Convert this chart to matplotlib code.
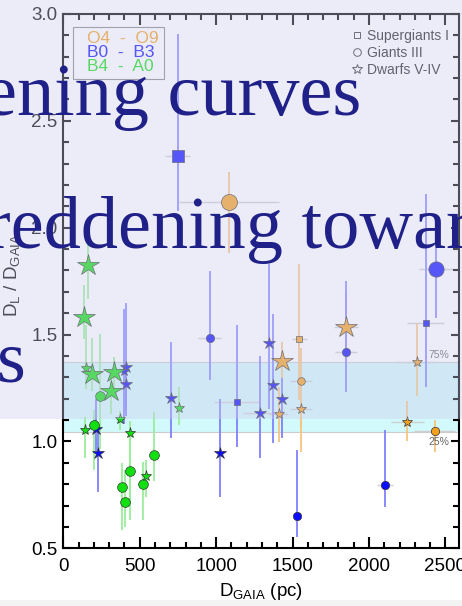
import matplotlib.pyplot as plt
from matplotlib.lines import Line2D
from matplotlib.patches import Rectangle
from matplotlib.ticker import MultipleLocator

plt.rcParams['font.family'] = 'Liberation Sans'
plt.rcParams['mathtext.default'] = 'regular'

# O4 - O9 stars
o_dist = [1087, 1850, 1543, 1429, 1555, 2312, 1556, 1408, 2251, 2430]
o_ratio = [2.12, 1.537, 1.480, 1.377, 1.283, 1.373, 1.151, 1.127, 1.090, 1.049]
o_lo = [0.24, 0.12, 0.285, 0.10, 0.215, 0.16, 0.20, 0.13, 0.09, 0.10]
o_hi = [0.14, 0.16, 0.35, 0.09, 0.155, 0.18, 0.05, 0.13, 0.10, 0.05]
o_xerr = [327, 80, 50, 30, 70, 130, 70, 65, 108, 134]
o_class = ['III', 'V', 'I', 'V', 'III', 'V', 'V', 'V', 'V', 'III']

# B0 - B3 stars
b_dist = [748, 2436, 957, 1850, 2371, 1344, 1373, 1429, 1135, 1288,
          1527, 2103, 1024, 225, 214, 410, 395, 410, 704]
b_ratio = [2.337, 1.808, 1.486, 1.420, 1.556, 1.460, 1.265, 1.198, 1.184, 1.132,
           0.651, 0.795, 0.948, 0.945, 1.057, 1.347, 1.330, 1.269, 1.204]
b_lo = [0.26, 0.23, 0.20, 0.19, 0.30, 0.31, 0.27, 0.18, 0.21, 0.21,
        0.10, 0.10, 0.21, 0.18, 0.10, 0.20, 0.25, 0.15, 0.19]
b_hi = [0.57, 0.25, 0.31, 0.33, 0.60, 0.37, 0.33, 0.10, 0.36, 0.27,
        0.31, 0.26, 0.25, 0.12, 0.14, 0.30, 0.29, 0.10, 0.26]
b_xerr = [83, 110, 75, 70, 120, 0, 0, 0, 150, 115, 0, 52, 0, 0, 0, 0, 0, 0, 0]
b_class = ['I', 'III', 'III', 'III', 'I', 'V', 'V', 'V', 'I', 'V',
           'III', 'III', 'V', 'V', 'V', 'V', 'V', 'V', 'V']

# B4 - A0 stars
g_dist = [163, 137, 150, 186, 333, 311, 238, 756, 368, 140,
          204, 438, 382, 403, 436, 524, 539, 593]
g_ratio = [1.826, 1.581, 1.345, 1.315, 1.327, 1.238, 1.213, 1.157, 1.104, 1.054,
           1.077, 1.038, 0.788, 0.715, 0.863, 0.802, 0.838, 0.937]
g_lo = [0.16, 0.10, 0.10, 0.08, 0.10, 0.11, 0.25, 0.08, 0.05, 0.13,
        0.21, 0.31, 0.20, 0.115, 0.23, 0.17, 0.10, 0.12]
g_hi = [0.15, 0.15, 0.20, 0.17, 0.07, 0.08, 0.29, 0.10, 0.04, 0.06,
        0.07, 0.06, 0.11, 0.15, 0.18, 0.10, 0.075, 0.20]
g_class = ['V', 'V', 'V', 'V', 'V', 'V', 'III', 'V', 'V', 'V',
           'III', 'V', 'III', 'III', 'III', 'III', 'V', 'III']

# interquartile range of the ratio
q25, q75 = 1.046, 1.371

# marker sizes per star
o_size = [11.5, 16, 4.5, 16, 5.5, 8, 8, 8, 8, 6]
b_size = [8, 11, 6, 6, 4, 9, 9, 9, 4.5, 9, 6, 6, 9, 9, 9, 9, 8, 9, 9]
g_size = [16, 16, 8, 16, 16, 16, 7, 8, 8, 8, 7, 8, 7, 7, 7, 7, 8, 7]

shape = {'I': 's', 'III': 'o', 'V': '*'}
orange, blue, green = '#f5a01e', '#0c0cff', '#10e010'

fig = plt.figure(figsize=(4.62, 6.06), dpi=100)
ax = fig.add_axes([0.137, 0.0952, 0.857, 0.8817])

ax.axhspan(q25, q75, color='#d2f9fc', zorder=0, lw=0)
ax.axhline(q25, color='#cccccc', lw=0.8, zorder=0.5)
ax.axhline(q75, color='#cccccc', lw=0.8, zorder=0.5)
ax.text(2456, q75 + 0.035, '75%', fontsize=7.5, color='#666666', ha='center', va='center')
ax.text(2456, q25 - 0.047, '25%', fontsize=7.5, color='#666666', ha='center', va='center')

groups = [
    (o_dist, o_ratio, o_lo, o_hi, o_xerr, o_class, o_size, orange, '#f7c47e'),
    (b_dist, b_ratio, b_lo, b_hi, b_xerr, b_class, b_size, blue, '#8080ff'),
    (g_dist, g_ratio, g_lo, g_hi, [0] * len(g_dist), g_class, g_size, green, '#9aee9a'),
]
for dist, ratio, lo, hi, xe, cls, size, col, ecol in groups:
    ax.errorbar(dist, ratio, xerr=xe, fmt='none', ecolor='#cfcfcf', elinewidth=1.0, zorder=1)
    ax.errorbar(dist, ratio, yerr=[lo, hi], fmt='none', ecolor=ecol, elinewidth=1.3, zorder=2)
    for x, y, c, s in zip(dist, ratio, cls, size):
        ax.plot(x, y, marker=shape[c], ms=s, mfc=col, mec='#333333', mew=0.5,
                ls='none', zorder=3)

ax.set_xlim(0, 2590)
ax.set_ylim(0.5, 3.0)
ax.xaxis.set_major_locator(MultipleLocator(500))
ax.xaxis.set_minor_locator(MultipleLocator(100))
ax.yaxis.set_major_locator(MultipleLocator(0.5))
ax.yaxis.set_minor_locator(MultipleLocator(0.1))
ax.tick_params(which='both', direction='in', top=True, right=True, width=1.5,
               labelsize=13.5)
ax.tick_params(axis='x', which='major', length=8, pad=7)
ax.tick_params(axis='y', which='major', length=6, pad=4)
ax.tick_params(which='minor', length=4)
for sp in ax.spines.values():
    sp.set_linewidth(1.5)

ax.set_xlabel('D$_{GAIA}$ (pc)', fontsize=13.5, labelpad=4)
ax.set_ylabel('D$_L$ / D$_{GAIA}$', fontsize=13.5)
ax.yaxis.set_label_coords(-0.105, 0.512)

# spectral-type key
ax.add_patch(Rectangle((0.0253, 0.8778), 0.2297, 0.0973, transform=ax.transAxes,
                       fill=False, ec='#888888', lw=0.8, zorder=4))
for text, col, yb in [('O4  -  O9', orange, 0.9463), ('B0  -  B3', blue, 0.9201),
                      ('B4  -  A0', green, 0.8933)]:
    ax.text(0.0606, yb, text, color=col, fontsize=12.5, va='baseline', transform=ax.transAxes)

# luminosity-class key
keys = [Line2D([], [], marker=m, ms=ms, mfc='none', mec='#333333', mew=0.7, ls='none')
        for m, ms in [('s', 4.5), ('o', 5.5), ('*', 7)]]
ax.legend(keys, ['Supergiants I', 'Giants III', 'Dwarfs V-IV'], loc='upper left',
          bbox_to_anchor=(0.715, 0.982), frameon=False, fontsize=10,
          handlelength=0.8, handletextpad=0.3, labelspacing=0.2, labelcolor='#222222',
          borderaxespad=0)

# slide layer drawn over the chart
fig.add_artist(Rectangle((0, 0.3086), 1, 0.6914, transform=fig.transFigure,
                         facecolor='#cdcded', alpha=0.38, lw=0, zorder=5))
fig.add_artist(Rectangle((0, 0), 1, 6 / 606, transform=fig.transFigure,
                         facecolor='#f3f3f3', lw=0, zorder=5))

navy = '#1f2088'
for text, x, y in [('ening curves', -0.0355, 1 - 115.5 / 606),
                   ('reddening towards', -0.030, 1 - 248.5 / 606),
                   ('s', -0.007, 1 - 382 / 606)]:
    fig.text(x, y, text, fontsize=53.5, family='Liberation Serif', color=navy,
             va='baseline', ha='left', zorder=7)

fig.savefig('out.png', dpi=100)
